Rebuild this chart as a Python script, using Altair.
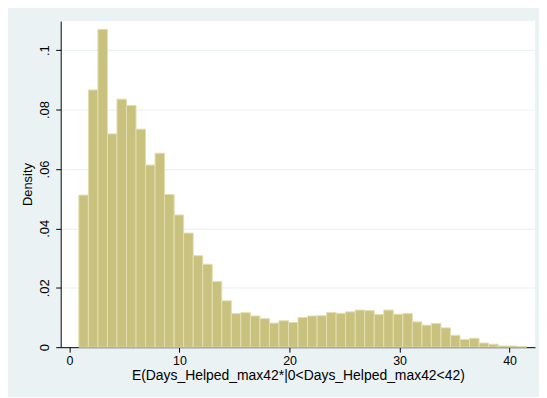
import altair as alt
import pandas as pd

# Histogram (Stata-style) of E(Days_Helped_max42*|0<Days_Helped_max42<42)
bin_start = 0.85      # left edge of the first bin
bin_width = 0.866     # bin width
density = [
    0.0512, 0.0866, 0.1070, 0.0718, 0.0835, 0.0814, 0.0734, 0.0613, 0.0653, 0.0514,
    0.0445, 0.0384, 0.0308, 0.0279, 0.0221, 0.0156, 0.0113, 0.0116, 0.0105, 0.0096,
    0.0081, 0.0089, 0.0083, 0.0100, 0.0105, 0.0106, 0.0117, 0.0114, 0.0119, 0.0125,
    0.0123, 0.0110, 0.0125, 0.0111, 0.0113, 0.0085, 0.0074, 0.0080, 0.0065, 0.0040,
    0.0026, 0.0030, 0.0014, 0.0010, 0.0004, 0.0004, 0.0002,
]
x_ticks = [0, 10, 20, 30, 40]
y_ticks = [0, 0.02, 0.04, 0.06, 0.08, 0.1]
x_title = "E(Days_Helped_max42*|0<Days_Helped_max42<42)"
y_title = "Density"

df = pd.DataFrame({
    "lo": [bin_start + i * bin_width for i in range(len(density))],
    "hi": [bin_start + (i + 1) * bin_width for i in range(len(density))],
    "density": density,
})

FONT = "Liberation Sans"

chart = alt.Chart(df).mark_rect(
    color="#C9C17E", stroke="#E3DEB0", strokeWidth=1
).encode(
    x=alt.X("lo:Q", scale=alt.Scale(domain=[-0.8, 42.31], nice=False, zero=False),
            axis=alt.Axis(values=x_ticks, title=x_title, grid=False, tickSize=5,
                          labelPadding=2, titlePadding=2, labelFontSize=12.5,
                          titleFontSize=14, titleFontWeight="normal")),
    x2="hi:Q",
    y=alt.Y("density:Q", scale=alt.Scale(domain=[0, 0.1098], nice=False),
            axis=alt.Axis(values=y_ticks, title=y_title, grid=True, gridColor="#EAF2F3",
                          gridWidth=1.2, tickSize=5, labelAngle=270, labelAlign="center",
                          labelBaseline="bottom", labelPadding=4,
                          labelExpr="datum.value == 0 ? '0' : replace(format(datum.value, '.2~f'), '0.', '.')",
                          labelFontSize=13, titleFontSize=13, titleFontWeight="normal",
                          titlePadding=4)),
    y2=alt.datum(0),
).properties(
    width=477, height=328,
    autosize=alt.AutoSizeParams(type="none"),
    padding={"left": 53, "top": 12, "right": 4, "bottom": 49},
    background="#EAF2F3",
).configure_view(
    fill="white", stroke=None
).configure_axis(
    domainColor="#000000", tickColor="#000000", labelColor="#000000", titleColor="#000000",
    labelFont=FONT, titleFont=FONT, domainWidth=1, tickWidth=1
)

chart.save("out.html", embed_options={"renderer": "svg", "actions": False})
